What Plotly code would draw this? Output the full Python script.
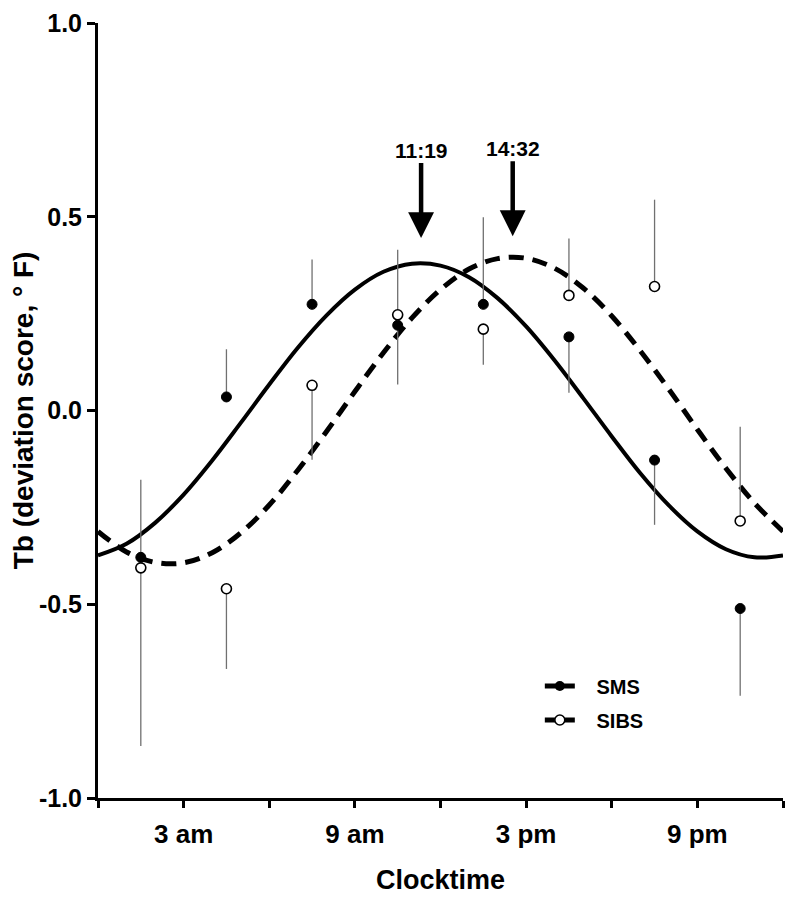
import plotly.graph_objects as go

# ---- data ----
bin_hours = [1.5, 4.5, 7.5, 10.5, 13.5, 16.5, 19.5, 22.5]

sms_values = [-0.379, 0.035, 0.274, 0.220, 0.274, 0.190, -0.128, -0.511]
sms_err_up = [0.200, 0.123, 0.116, 0.0, 0.225, 0.0, 0.0, 0.0]
sms_err_down = [0.0, 0.0, 0.0, 0.153, 0.0, 0.144, 0.167, 0.225]

sibs_values = [-0.406, -0.460, 0.065, 0.247, 0.210, 0.297, 0.320, -0.285]
sibs_err_up = [0.0, 0.0, 0.0, 0.168, 0.0, 0.147, 0.224, 0.243]
sibs_err_down = [0.460, 0.207, 0.192, 0.0, 0.092, 0.0, 0.0, 0.0]

# fitted cosinor curves (0..24 h)
curve_hours = list(range(0, 25))
sms_curve = [-0.374, -0.344, -0.290, -0.217, -0.129, -0.032, 0.067, 0.162, 0.245,
             0.312, 0.358, 0.379, 0.374, 0.344, 0.290, 0.217, 0.129, 0.032,
             -0.067, -0.162, -0.245, -0.312, -0.358, -0.379, -0.374]
sibs_curve = [-0.312, -0.365, -0.392, -0.393, -0.367, -0.316, -0.244, -0.154, -0.055,
              0.049, 0.149, 0.239, 0.312, 0.365, 0.392, 0.393, 0.367, 0.316,
              0.244, 0.154, 0.055, -0.049, -0.149, -0.239, -0.312]

# acrophases (arrows)
acrophase_hours = [11.32, 14.53]
acrophase_labels = ["11:19", "14:32"]
acrophase_tip = [0.445, 0.45]

x_tickvals = [0, 3, 6, 9, 12, 15, 18, 21, 24]
x_ticktext = ["", "3 am", "", "9 am", "", "3 pm", "", "9 pm", ""]
y_tickvals = [-1.0, -0.5, 0.0, 0.5, 1.0]
y_ticktext = ["-1.0", "-0.5", "0.0", "0.5", "1.0"]

FONT = "Liberation Sans, Arial, sans-serif"
PAD = "\u00a0\u00a0\u00a0"

fig = go.Figure()

# curves
fig.add_trace(go.Scatter(x=curve_hours, y=sms_curve, mode="lines",
                         line=dict(color="black", width=4, shape="spline"),
                         showlegend=False, hoverinfo="skip"))
fig.add_trace(go.Scatter(x=curve_hours, y=sibs_curve, mode="lines",
                         line=dict(color="black", width=5, shape="spline", dash="15px,9px"),
                         showlegend=False, hoverinfo="skip"))

# data points with one-sided error bars
fig.add_trace(go.Scatter(
    x=bin_hours, y=sms_values, mode="markers",
    marker=dict(color="black", size=10, line=dict(color="black", width=1)),
    error_y=dict(type="data", symmetric=False, array=sms_err_up, arrayminus=sms_err_down,
                 color="#707070", thickness=1.3, width=0),
    showlegend=False))
fig.add_trace(go.Scatter(
    x=bin_hours, y=sibs_values, mode="markers",
    marker=dict(color="white", size=10, line=dict(color="black", width=1.6)),
    error_y=dict(type="data", symmetric=False, array=sibs_err_up, arrayminus=sibs_err_down,
                 color="#707070", thickness=1.3, width=0),
    showlegend=False))

# legend entries
fig.add_trace(go.Scatter(x=[None], y=[None], mode="lines+markers", name=PAD + "SMS",
                         legendgroup="a",
                         line=dict(color="black", width=5),
                         marker=dict(color="black", size=10)))
fig.add_trace(go.Scatter(x=[None], y=[None], mode="lines+markers", name=PAD + "SIBS",
                         legendgroup="b",
                         line=dict(color="black", width=5),
                         marker=dict(color="white", size=10, line=dict(color="black", width=1.6))))

for h, lab, tip in zip(acrophase_hours, acrophase_labels, acrophase_tip):
    fig.add_annotation(x=h, y=tip, xref="x", yref="y", text="<b>" + lab + "</b>",
                       showarrow=True, arrowhead=2, arrowsize=1.15, arrowwidth=4.5,
                       arrowcolor="black", ax=0, ay=-88, standoff=0,
                       font=dict(family=FONT, size=21, color="black"))

fig.update_layout(
    width=790, height=892,
    margin=dict(l=89.5, r=14.5, t=15, b=102, autoexpand=False),
    plot_bgcolor="white", paper_bgcolor="white",
    font=dict(family=FONT, color="black"),
    showlegend=True,
    legend=dict(x=0.645, y=0.1226, xanchor="left", yanchor="middle",
                bgcolor="rgba(0,0,0,0)", tracegroupgap=5, itemwidth=30,
                font=dict(family=FONT, size=20, color="black", weight="bold")),
    xaxis=dict(range=[0, 24], showgrid=False, zeroline=False, automargin=False,
               showline=True, linecolor="black", linewidth=3,
               tickmode="array", tickvals=x_tickvals, ticktext=x_ticktext,
               ticks="outside", ticklen=7, tickwidth=3, tickcolor="black",
               ticklabelstandoff=4, ticklabeloverflow="allow",
               tickfont=dict(family=FONT, size=26, color="black", weight="bold"),
               title=dict(text="<b>Clocktime</b>", standoff=22,
                          font=dict(family=FONT, size=27, color="black"))),
    yaxis=dict(range=[-1, 1], showgrid=False, zeroline=False, automargin=False,
               showline=True, linecolor="black", linewidth=3,
               tickmode="array", tickvals=y_tickvals, ticktext=y_ticktext,
               ticks="outside", ticklen=8, tickwidth=3, tickcolor="black",
               ticklabeloverflow="allow",
               tickfont=dict(family=FONT, size=25, color="black", weight="bold"),
               title=dict(text="<b>Tb (deviation score, ° F)</b>", standoff=0,
                          font=dict(family=FONT, size=28, color="black"))),
)

fig.write_html("out.html")
